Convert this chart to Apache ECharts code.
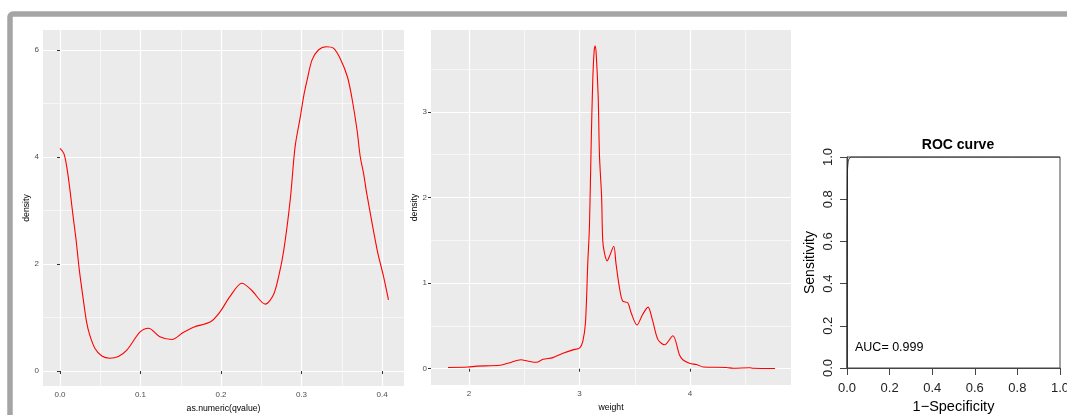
<!DOCTYPE html>
<html>
<head>
	<meta charset="UTF-8">
	<title>density + ROC</title>
	<script type="text/javascript" src="https://cdn.jsdelivr.net/npm/echarts@6.0.0/dist/echarts.min.js"></script>
	<style>
		html, body { margin:0; padding:0; background:#fff; }
		#main { width:1067px; height:415px; }
	</style>
</head>
<body>
<div id="main"></div>
<script>
	// panel 1: density of as.numeric(qvalue)
	var qvalueX = [0, 0.005, 0.009, 0.0124, 0.0158, 0.02, 0.024, 0.029, 0.033, 0.037, 0.0435, 0.052, 0.062, 0.0725, 0.083, 0.0995, 0.11, 0.124, 0.139, 0.153, 0.166, 0.187, 0.199, 0.211, 0.226, 0.238, 0.255, 0.265, 0.2715, 0.278, 0.286, 0.292, 0.2985, 0.3026, 0.307, 0.313, 0.321, 0.331, 0.34, 0.348, 0.357, 0.363, 0.369, 0.373, 0.377, 0.381, 0.394, 0.402, 0.408];
	var qvalueDensity = [4.16, 4.06, 3.76, 3.38, 2.95, 2.45, 1.89, 1.33, 0.92, 0.67, 0.42, 0.28, 0.24, 0.27, 0.39, 0.73, 0.80, 0.64, 0.59, 0.72, 0.82, 0.92, 1.11, 1.39, 1.64, 1.51, 1.25, 1.42, 1.76, 2.26, 3.2, 4.19, 4.75, 5.13, 5.44, 5.81, 6.0, 6.06, 6.03, 5.84, 5.5, 5.07, 4.5, 4.0, 3.7, 3.32, 2.26, 1.76, 1.33];
	var qvalueTicks = [0, 0.1, 0.2, 0.3, 0.4];
	var qvalueMinor = [0.05, 0.15, 0.25, 0.35];
	var density1Ticks = [0, 2, 4, 6];
	var density1Minor = [1, 3, 5];

	// panel 2: density of weight
	var weightX = [1.81, 1.99, 2.07, 2.28, 2.37, 2.47, 2.53, 2.61, 2.67, 2.76, 2.85, 2.94, 3.0, 3.03, 3.054, 3.075, 3.09, 3.105, 3.12, 3.133, 3.142, 3.151, 3.169, 3.181, 3.2, 3.21, 3.226, 3.25, 3.27, 3.31, 3.33, 3.36, 3.39, 3.437, 3.468, 3.52, 3.57, 3.62, 3.66, 3.71, 3.77, 3.845, 3.905, 3.935, 4.0, 4.06, 4.12, 4.33, 4.39, 4.54, 4.57, 4.77];
	var weightDensity = [0.015, 0.02, 0.03, 0.04, 0.07, 0.105, 0.09, 0.075, 0.11, 0.13, 0.18, 0.22, 0.24, 0.32, 0.54, 1.24, 1.66, 2.59, 3.37, 3.72, 3.77, 3.68, 3.18, 2.48, 2.01, 1.5, 1.35, 1.26, 1.31, 1.43, 1.23, 0.96, 0.79, 0.77, 0.65, 0.51, 0.63, 0.72, 0.57, 0.34, 0.28, 0.385, 0.16, 0.105, 0.06, 0.05, 0.02, 0.015, 0.005, 0.012, 0.005, 0.003];
	var weightTicks = [2, 3, 4];
	var weightMinor = [2.5, 3.5, 4.5];
	var density2Ticks = [0, 1, 2, 3];
	var density2Minor = [0.5, 1.5, 2.5, 3.5];

	// panel 3: ROC curve
	var rocFpr = [0, 0, 0.002, 0.005, 0.01, 0.02, 1];
	var rocTpr = [0, 0.5, 0.93, 0.975, 0.993, 1, 1];
	var rocTicks = [0, 0.2, 0.4, 0.6, 0.8, 1];
	var aucText = 'AUC= 0.999';

	function pairs(xs, ys) {
		var out = [];
		for (var i = 0; i < xs.length; i++) out.push([xs[i], ys[i]]);
		return out;
	}

	var GG_FONT = 'Liberation Sans, Arial, sans-serif';

	// ggplot style axis (major ticks + labels + white grid)
	function ggAxis(dim, grid, min, max, ticks, fmt, name, gap) {
		return {
			type: 'value', gridIndex: grid, min: min, max: max,
			name: name, nameLocation: 'middle', nameGap: gap,
			nameTextStyle: { color: '#000', fontSize: 8.7, fontFamily: GG_FONT },
			axisLine: { show: false },
			axisTick: { show: true, length: 3, customValues: ticks, lineStyle: { color: '#333', width: 1 } },
			axisLabel: { customValues: ticks, formatter: fmt, color: '#4d4d4d', fontSize: 8, fontFamily: GG_FONT, margin: dim == 'x' ? 5 : 4 },
			splitLine: { show: true, lineStyle: { color: '#ffffff', width: 1.2 } }
		};
	}
	// minor grid only
	function ggMinor(grid, min, max, ticks) {
		return {
			type: 'value', gridIndex: grid, min: min, max: max,
			axisLine: { show: false },
			axisTick: { show: false, customValues: ticks },
			axisLabel: { show: false, customValues: ticks },
			splitLine: { show: true, lineStyle: { color: '#ffffff', width: 0.6 } }
		};
	}

	var myChart = echarts.init(document.getElementById('main'), null, { renderer: 'canvas' });
	var option = {
		backgroundColor: '#ffffff',
		animation: false,
		title: {
			text: 'ROC curve', left: 953, top: 133, textAlign: 'center',
			textStyle: { fontSize: 14, fontWeight: 'bold', color: '#000', fontFamily: GG_FONT }
		},
		graphic: [
			{ type: 'rect', z: -10, shape: { x: 10, y: 14, width: 1120, height: 460, r: 3 },
			  style: { fill: 'none', stroke: '#a5a5a5', lineWidth: 5.5 } },
			{ type: 'text', left: 855, top: 341,
			  style: { text: aucText, fontSize: 12.5, fill: '#000', fontFamily: GG_FONT } }
		],
		grid: [
			{ left: 43, top: 30, width: 361, height: 356, show: true, backgroundColor: '#ebebeb', borderWidth: 0,
			  containLabel: false, outerBoundsMode: 'none' },
			{ left: 431, top: 30, width: 360, height: 355, show: true, backgroundColor: '#ebebeb', borderWidth: 0,
			  containLabel: false, outerBoundsMode: 'none' },
			{ left: 847, top: 157, width: 213, height: 211, show: true, backgroundColor: '#ffffff', borderColor: '#444', borderWidth: 1,
			  containLabel: false, outerBoundsMode: 'none' }
		],
		xAxis: [
			ggAxis('x', 0, -0.0211, 0.4273, qvalueTicks, function (v) { return v.toFixed(1); }, 'as.numeric(qvalue)', 16),
			ggMinor(0, -0.0211, 0.4273, qvalueMinor),
			ggAxis('x', 1, 1.656, 4.914, weightTicks, function (v) { return String(v); }, 'weight', 15),
			ggMinor(1, 1.656, 4.914, weightMinor),
			{
				type: 'value', gridIndex: 2, min: 0, max: 1,
				name: '1\u2212Specificity', nameLocation: 'middle', nameGap: 30,
				nameTextStyle: { color: '#000', fontSize: 14.5, fontFamily: GG_FONT },
				axisLine: { show: true, lineStyle: { color: '#444', width: 1 } },
				axisTick: { show: true, length: 7, customValues: rocTicks, lineStyle: { color: '#444' } },
				axisLabel: { color: '#222', fontSize: 13, fontFamily: GG_FONT, margin: 14, customValues: rocTicks,
					formatter: function (v) { return v.toFixed(1); } },
				splitLine: { show: false }
			}
		],
		yAxis: [
			ggAxis('y', 0, -0.28, 6.374, density1Ticks, function (v) { return String(v); }, 'density', 8.5),
			ggMinor(0, -0.28, 6.374, density1Minor),
			ggAxis('y', 1, -0.19, 3.956, density2Ticks, function (v) { return String(v); }, 'density', 9.5),
			ggMinor(1, -0.19, 3.956, density2Minor),
			{
				type: 'value', gridIndex: 2, min: 0, max: 1,
				name: 'Sensitivity', nameLocation: 'middle', nameGap: 30,
				nameTextStyle: { color: '#000', fontSize: 14, fontFamily: GG_FONT },
				axisLine: { show: true, lineStyle: { color: '#444', width: 1 } },
				axisTick: { show: true, length: 7, customValues: rocTicks, lineStyle: { color: '#444' } },
				axisLabel: { color: '#222', fontSize: 13, fontFamily: GG_FONT, margin: 12, rotate: 90, customValues: rocTicks,
					formatter: function (v) { return v.toFixed(1); } },
				splitLine: { show: false }
			}
		],
		series: [
			{
				name: 'qvalue', type: 'line', xAxisIndex: 0, yAxisIndex: 0,
				data: pairs(qvalueX, qvalueDensity), smooth: 0.3, showSymbol: false,
				lineStyle: { color: '#ff0000', width: 1.1 }, z: 5
			},
			{
				name: 'weight', type: 'line', xAxisIndex: 2, yAxisIndex: 2,
				data: pairs(weightX, weightDensity), smooth: 0.3, showSymbol: false,
				lineStyle: { color: '#ff0000', width: 1.1 }, z: 5
			},
			{
				name: 'ROC', type: 'line', xAxisIndex: 4, yAxisIndex: 4,
				data: pairs(rocFpr, rocTpr), smooth: 0.2, showSymbol: false,
				lineStyle: { color: '#222', width: 1 }, z: 5
			}
		]
	};
	myChart.setOption(option);
	window.addEventListener('resize', function () { myChart.resize(); });
</script>
</body>
</html>
